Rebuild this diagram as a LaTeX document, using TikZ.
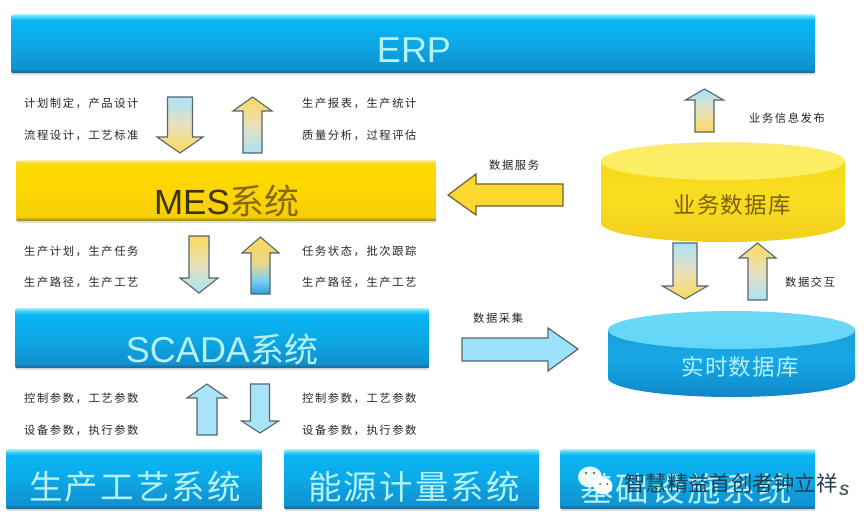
\documentclass[tikz,border=0pt]{standalone}
\usepackage{fontspec}
\usetikzlibrary{shadows}
\setmainfont{Liberation Sans}
\newfontfamily\cjksmall[LetterSpace=14]{Noto Sans CJK SC}
\newfontfamily\cjkbig[LetterSpace=6]{Noto Sans CJK SC}
\newfontfamily\cjkmid[LetterSpace=5]{Noto Sans CJK SC}
\newfontfamily\cjktitle{Noto Sans CJK SC}
\definecolor{pale}{HTML}{B4F2F6}
\definecolor{softblue}{HTML}{A9E3F8}
\definecolor{softyel}{HTML}{FBD95E}
\definecolor{softmid}{HTML}{E8E0BC}
\definecolor{edgegray}{HTML}{56666E}
\definecolor{edgebrown}{HTML}{6B6030}
\definecolor{fillyel}{HTML}{FBD82E}
\definecolor{fillblue}{HTML}{9CE2FA}
\definecolor{mesdark}{HTML}{3E3208}
\definecolor{messys}{HTML}{86680E}
\definecolor{bizdark}{HTML}{7A6210}
\definecolor{wmdark}{HTML}{1F3F55}
\definecolor{ba}{HTML}{1A6F9E}
\definecolor{bb}{HTML}{1190CF}
\definecolor{bc}{HTML}{0CA8E6}
\definecolor{bd}{HTML}{0AB6F4}
\definecolor{be}{HTML}{40D0F6}
\definecolor{bf}{HTML}{9CF0FB}
\definecolor{ya}{HTML}{A08A20}
\definecolor{yb}{HTML}{B09A20}
\definecolor{yc}{HTML}{F6CE06}
\definecolor{yd}{HTML}{FDD603}
\definecolor{ye}{HTML}{FFDB00}
\definecolor{yf}{HTML}{F5D94E}
\definecolor{yg}{HTML}{FBF0A0}
\definecolor{ca}{HTML}{1185C4}
\definecolor{cb}{HTML}{1296D8}
\definecolor{cc}{HTML}{18A8E6}
\definecolor{cd}{HTML}{1B9ED8}
\definecolor{ce}{HTML}{F0CE1E}
\definecolor{cf}{HTML}{FADC20}
\definecolor{cg}{HTML}{F6D81C}
\definecolor{ta}{HTML}{62D6F8}
\definecolor{tb}{HTML}{6CD8F6}
\definecolor{tc}{HTML}{FBEF60}
\definecolor{td}{HTML}{FCEC66}
\definecolor{te}{HTML}{FCE88A}
\definecolor{da}{HTML}{2F9FDC}
\definecolor{db}{HTML}{7AD0F4}
\definecolor{dc}{HTML}{E8D88A}
\definecolor{dd}{HTML}{FBD658}
\pgfdeclareverticalshading{bluebar}{100bp}{
 color(0bp)=(ba); color(25bp)=(ba); color(26.5bp)=(ba); color(28.5bp)=(bb); color(50bp)=(bc);
 color(70bp)=(bd); color(72.5bp)=(be); color(75bp)=(bf); color(100bp)=(bf)}
\pgfdeclareverticalshading{yellowbar}{100bp}{
 color(0bp)=(ya); color(25bp)=(ya); color(26.5bp)=(yb); color(28.5bp)=(yc); color(50bp)=(yd);
 color(71bp)=(ye); color(73.5bp)=(yf); color(75bp)=(yg); color(100bp)=(yg)}
\pgfdeclareverticalshading{bluecyl}{100bp}{
 color(0bp)=(ca); color(25bp)=(ca); color(37bp)=(cb); color(55bp)=(cc); color(75bp)=(cd); color(100bp)=(cd)}
\pgfdeclareverticalshading{yelcyl}{100bp}{
 color(0bp)=(ce); color(25bp)=(ce); color(50bp)=(cf); color(75bp)=(cg); color(100bp)=(cg)}
\pgfdeclareverticalshading{bluetop}{100bp}{
 color(0bp)=(ta); color(25bp)=(ta); color(75bp)=(tb); color(100bp)=(tb)}
\pgfdeclareverticalshading{yeltop}{100bp}{
 color(0bp)=(tc); color(25bp)=(tc); color(68bp)=(td); color(75bp)=(te); color(100bp)=(te)}
\pgfdeclareverticalshading{bluedeep}{100bp}{
 color(0bp)=(da); color(25bp)=(da); color(37bp)=(db); color(52bp)=(dc); color(75bp)=(dd); color(100bp)=(dd)}
\tikzset{
 layerbox/.style={rounded corners=2pt,inner sep=0pt,anchor=north west,
   drop shadow={shadow xshift=0pt,shadow yshift=-2pt,opacity=.22,fill=gray}},
 smalltxt/.style={font=\cjksmall\fontsize{11.3}{12}\selectfont,text=black!85,inner sep=0pt,anchor=west},
 blockarrow/.style={draw=edgegray,line width=1.1pt,line join=miter},
 bluetoyel/.style={blockarrow,top color=softblue,bottom color=softyel,middle color=softmid},
 yeltoblue/.style={blockarrow,top color=softyel,bottom color=softblue,middle color=softmid},
 plainblue/.style={blockarrow,fill=softblue},
}
% centre x, tip y, tail y, half head, half shaft, head base y, style
\newcommand{\vblock}[7]{\path[#7] (#1-#5,#3) -- (#1-#5,#6) -- (#1-#4,#6) -- (#1,#2) -- (#1+#4,#6) -- (#1+#5,#6) -- (#1+#5,#3) -- cycle;}
% left x, right x, centre y of top face, y of lower rim, radius y, side shading, top shading
\newcommand{\cylinder}[7]{
 \path[shade,shading=#6] (#1,#3) -- (#1,#4) arc[start angle=180,end angle=0,x radius={(#2-#1)/2},y radius=#5] -- (#2,#3) -- cycle;
 \path[shade,shading=#7] ({(#1+#2)/2},#3) ellipse[x radius={(#2-#1)/2},y radius=#5];
}
\begin{document}
\begin{tikzpicture}[x=1pt,y=-1pt]
\useasboundingbox[fill=white] (0,0) rectangle (864,522);

% layer bars
\node[layerbox,shade,shading=bluebar,minimum width=804pt,minimum height=59pt] (erp) at (11,14) {};
\node[font=\fontsize{36}{36}\selectfont,text=pale,inner sep=0pt] (erpt) at (414,50) {ERP};
\node[layerbox,shade,shading=yellowbar,minimum width=420pt,minimum height=61pt] (mes) at (16,160) {};
\node[font=\fontsize{35}{35}\selectfont,text=mesdark,inner sep=0pt] (mest) at (227,201) {MES{\cjktitle\fontsize{35}{35}\selectfont\color{messys}系统}};
\node[layerbox,shade,shading=bluebar,minimum width=414pt,minimum height=60pt] (scada) at (15,308) {};
\node[font=\fontsize{36}{36}\selectfont,text=pale,inner sep=0pt] (scadat) at (222,349) {SCADA{\cjktitle\fontsize{34}{34}\selectfont 系统}};
\node[layerbox,shade,shading=bluebar,minimum width=256pt,minimum height=60pt] (prod) at (6,449) {};
\node[font=\cjkbig\fontsize{33.5}{34}\selectfont,text=pale,inner sep=0pt] (prodt) at (135,487) {生产工艺系统};
\node[layerbox,shade,shading=bluebar,minimum width=255pt,minimum height=60pt] (ener) at (284,449) {};
\node[font=\cjkbig\fontsize{33.5}{34}\selectfont,text=pale,inner sep=0pt] (enert) at (414,487) {能源计量系统};
\node[layerbox,shade,shading=bluebar,minimum width=255pt,minimum height=60pt] (infra) at (560,449) {};
\node[font=\cjkbig\fontsize{33.5}{34}\selectfont,text=pale,inner sep=0pt] (infrat) at (686,489) {基础设施系统};

% arrows between layers
\vblock{180}{153}{97}{23}{12.5}{137}{bluetoyel}
\vblock{252.5}{97}{153}{19.5}{9.5}{111}{yeltoblue}
\vblock{199}{293}{236}{19}{10}{278}{yeltoblue}
\vblock{260.5}{237}{294}{18.5}{9.5}{253}{blockarrow,shade,shading=bluedeep}
\vblock{207}{384}{435}{20}{10}{398}{plainblue}
\vblock{260}{433}{384}{18.5}{9.5}{421}{plainblue}

% side labels
\node[smalltxt] (l1) at (24,103) {计划制定，产品设计};
\node[smalltxt] (l2) at (24,135) {流程设计，工艺标准};
\node[smalltxt] (r1) at (302,103) {生产报表，生产统计};
\node[smalltxt] (r2) at (302,135) {质量分析，过程评估};
\node[smalltxt] (l3) at (24,251) {生产计划，生产任务};
\node[smalltxt] (l4) at (24,282) {生产路径，生产工艺};
\node[smalltxt] (r3) at (302,251) {任务状态，批次跟踪};
\node[smalltxt] (r4) at (302,282) {生产路径，生产工艺};
\node[smalltxt] (l5) at (24,398) {控制参数，工艺参数};
\node[smalltxt] (l6) at (24,430) {设备参数，执行参数};
\node[smalltxt] (r5) at (302,398) {控制参数，工艺参数};
\node[smalltxt] (r6) at (302,430) {设备参数，执行参数};

% databases
\cylinder{601}{845}{161}{223}{19}{yelcyl}{yeltop}
\node[font=\cjkmid\fontsize{22.5}{24}\selectfont,text=bizdark,inner sep=0pt] (bizdb) at (732,205) {业务数据库};
\cylinder{608}{855}{330}{378}{19}{bluecyl}{bluetop}
\node[font=\cjkmid\fontsize{22.5}{24}\selectfont,text=pale,inner sep=0pt] (rtdb) at (740,367) {实时数据库};

% data arrows
\path[draw=edgebrown,line width=1.2pt,fill=fillyel] (563,184) -- (476,184) -- (476,174) -- (448,195) -- (476,215) -- (476,206) -- (563,206) -- cycle;
\path[draw=edgegray,line width=1.2pt,fill=fillblue] (462,338) -- (548,338) -- (548,328) -- (578,349) -- (548,371) -- (548,361) -- (462,361) -- cycle;
\vblock{704.5}{89}{132}{19}{9.5}{100}{bluetoyel}
\vblock{685}{299}{243}{22.5}{12}{286}{bluetoyel}
\vblock{757.5}{243}{300}{18.5}{9.5}{258}{yeltoblue}

\node[smalltxt] (svc) at (489,165) {数据服务};
\node[smalltxt] (pub) at (749,118) {业务信息发布};
\node[smalltxt] (xchg) at (785,282) {数据交互};
\node[smalltxt] (coll) at (473,318) {数据采集};

% watermark
\fill[white,opacity=.92] (590,477) ellipse[x radius=12,y radius=10.5];
\fill[white] (603,486) ellipse[x radius=9.5,y radius=8.5];
\fill[black!70] (586,473) circle[radius=1.1] (594,473) circle[radius=1.1] (600,484) circle[radius=1] (607,484) circle[radius=1];
\node[font=\cjktitle\fontsize{21.3}{22}\selectfont,text=wmdark,inner sep=0pt] (wm) at (731,483) {智慧精益首创者钟立祥};
\node[font=\bfseries\itshape\fontsize{15}{15}\selectfont,text=black!65,inner sep=0pt] (wms) at (844,490) {S};
\end{tikzpicture}
\end{document}
